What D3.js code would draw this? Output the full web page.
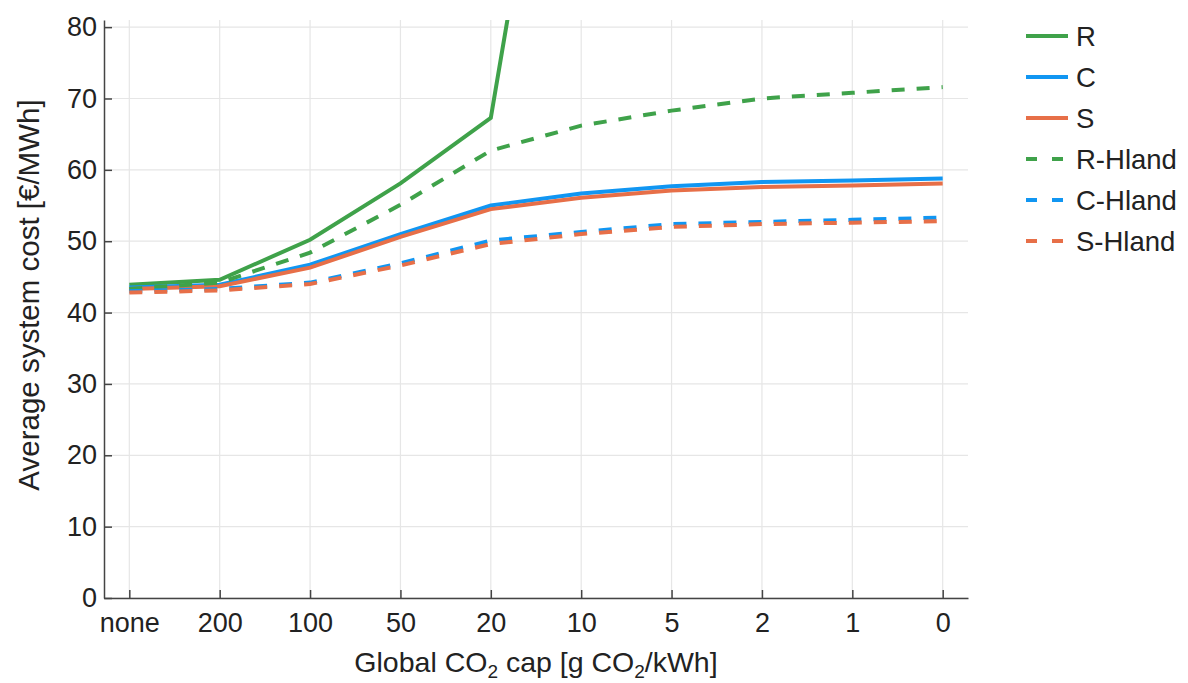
<!DOCTYPE html>
<html>
<head>
	<meta charset="utf-8">
	<title>Average system cost</title>
	<script src="https://d3js.org/d3.v7.min.js" charset="utf-8"></script>
	<style>
		body { margin: 0; background: #fff; }
		text { font-family: "Liberation Sans", Arial, sans-serif; fill: #222; }
	</style>
</head>
<body>
<script type="text/javascript">
	// categories on the x axis
	var caps = ["none", "200", "100", "50", "20", "10", "5", "2", "1", "0"];
	var yTicks = [0, 10, 20, 30, 40, 50, 60, 70, 80];

	// series values [€/MWh] (R leaves the chart after 20)
	var R      = [43.9, 44.6, 50.2, 58.1, 67.3, 142, null, null, null, null];
	var C      = [43.5, 43.9, 46.7, 51.0, 55.0, 56.7, 57.7, 58.3, 58.5, 58.8];
	var S      = [43.3, 43.7, 46.3, 50.6, 54.5, 56.1, 57.1, 57.6, 57.8, 58.1];
	var RHland = [43.3, 44.2, 48.4, 55.1, 62.7, 66.2, 68.3, 70.0, 70.8, 71.6];
	var CHland = [43.0, 43.3, 44.2, 46.9, 50.1, 51.3, 52.4, 52.7, 53.0, 53.3];
	var SHland = [42.8, 43.1, 44.0, 46.6, 49.6, 51.0, 52.0, 52.4, 52.6, 52.8];

	var names = ["R", "C", "S", "R-Hland", "C-Hland", "S-Hland"];
	var values = [R, C, S, RHland, CHland, SHland];

	var green = "#3fa24a", blue = "#1196f2", orange = "#e76f48";
	var colors = [green, blue, orange, green, blue, orange];
	var dashed = [false, false, false, true, true, true];

	var svgWidth = 1188, svgHeight = 683;
	var mLeft = 104, mRight = 968, mTop = 20, mBottom = 598;

	var svg = d3.select("body").append("svg")
		.attr("width", svgWidth)
		.attr("height", svgHeight);

	var x = d3.scalePoint()
		.domain(caps)
		.range([mLeft, mRight])
		.padding(0.28);

	var y = d3.scaleLinear()
		.domain([0, 81])
		.range([mBottom, mTop]);

	// grid
	svg.append("g")
		.selectAll("line")
		.data(caps)
		.enter().append("line")
		.attr("x1", function(d) { return x(d); })
		.attr("x2", function(d) { return x(d); })
		.attr("y1", mTop)
		.attr("y2", mBottom)
		.attr("stroke", "#e6e6e6")
		.attr("stroke-width", 1.2);

	svg.append("g")
		.selectAll("line")
		.data(yTicks)
		.enter().append("line")
		.attr("x1", mLeft)
		.attr("x2", mRight)
		.attr("y1", function(d) { return y(d); })
		.attr("y2", function(d) { return y(d); })
		.attr("stroke", "#e6e6e6")
		.attr("stroke-width", 1.2);

	// axes, ticks pointing inwards
	var xAxis = svg.append("g")
		.attr("transform", "translate(0," + mBottom + ")")
		.call(d3.axisBottom(x).tickSize(-8).tickSizeOuter(0).tickPadding(15));

	var yAxis = svg.append("g")
		.attr("transform", "translate(" + mLeft + ",0)")
		.call(d3.axisLeft(y).tickValues(yTicks).tickSize(-8).tickSizeOuter(0).tickPadding(7));

	[xAxis, yAxis].forEach(function(a) {
		a.attr("font-size", null).attr("font-family", null);
		a.select(".domain").attr("stroke", "#444").attr("stroke-width", 1.5);
		a.selectAll(".tick line").attr("stroke", "#444").attr("stroke-width", 1.5);
		a.selectAll(".tick text")
			.style("font-size", "27px")
			.attr("fill", "#222");
	});

	// lines
	svg.append("clipPath").attr("id", "plot")
		.append("rect")
		.attr("x", mLeft).attr("y", mTop)
		.attr("width", mRight - mLeft).attr("height", mBottom - mTop);

	var line = d3.line()
		.defined(function(d) { return d != null; })
		.x(function(d, i) { return x(caps[i]); })
		.y(function(d) { return y(d); });

	svg.append("g")
		.attr("clip-path", "url(#plot)")
		.selectAll("path")
		.data(values)
		.enter().append("path")
		.attr("d", line)
		.attr("fill", "none")
		.attr("stroke", function(d, i) { return colors[i]; })
		.attr("stroke-width", 4)
		.attr("stroke-dasharray", function(d, i) { return dashed[i] ? "13,12" : null; });

	// axis titles
	var xt = svg.append("text")
		.attr("x", (mLeft + mRight) / 2)
		.attr("y", 672)
		.attr("text-anchor", "middle")
		.style("font-size", "28.5px");
	xt.append("tspan").text("Global CO");
	xt.append("tspan").attr("dy", 6).style("font-size", "19px").text("2");
	xt.append("tspan").attr("dy", -6).text(" cap [g CO");
	xt.append("tspan").attr("dy", 6).style("font-size", "19px").text("2");
	xt.append("tspan").attr("dy", -6).text("/kWh]");

	svg.append("text")
		.attr("transform", "translate(39,295) rotate(-90)")
		.attr("text-anchor", "middle")
		.style("font-size", "29.5px")
		.text("Average system cost [€/MWh]");

	// legend
	var legend = svg.append("g")
		.selectAll("g")
		.data(names)
		.enter().append("g")
		.attr("transform", function(d, i) { return "translate(1026," + (36 + i * 41) + ")"; });

	legend.append("line")
		.attr("x1", 0).attr("x2", 42)
		.attr("stroke", function(d, i) { return colors[i]; })
		.attr("stroke-width", 4)
		.attr("stroke-dasharray", function(d, i) { return dashed[i] ? "11,15" : null; });

	legend.append("text")
		.attr("x", 50)
		.attr("dy", "0.36em")
		.style("font-size", "27.5px")
		.text(function(d) { return d; });
</script>
</body>
</html>
